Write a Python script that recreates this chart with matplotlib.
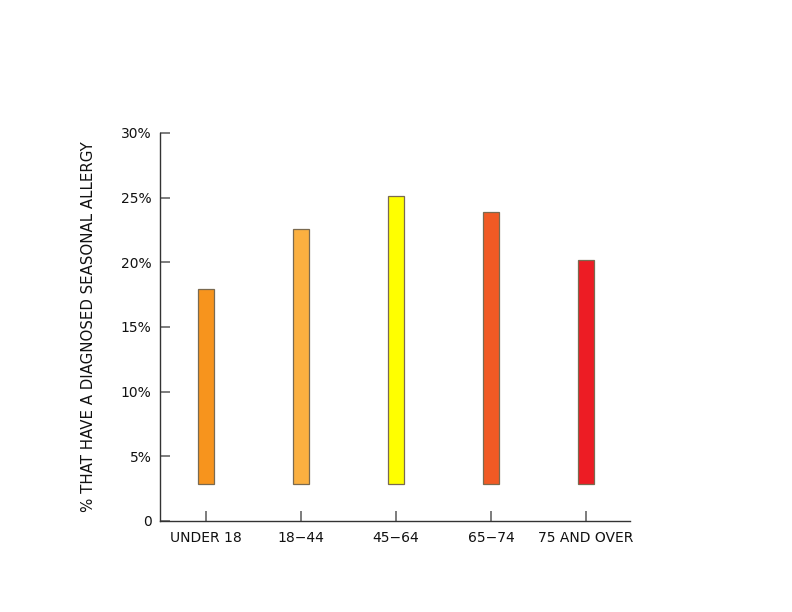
import matplotlib.pyplot as plt

groups = ['UNDER 18', '18\u221244', '45\u221264', '65\u221274', '75 AND OVER']
tops = [17.9, 22.6, 25.1, 23.9, 20.2]
base = 2.85
colors = ['#F7941D', '#FBB040', '#FFFF00', '#F15A24', '#ED1C24']

plt.rcParams['font.family'] = ['DejaVu Sans']

fig = plt.figure(figsize=(7.92, 6.12), dpi=100)
ax = fig.add_axes([0.202, 0.1487, 0.593, 0.634])

x = range(len(groups))
heights = [t - base for t in tops]
ax.bar(x, heights, bottom=base, width=0.175, color=colors,
       edgecolor='#7a6a50', linewidth=0.9)

ax.set_xlim(-0.484, 4.46)
ax.set_ylim(0, 30)
ax.set_xticks(list(x))
ax.set_xticklabels(groups, fontsize=10, color='#111111')
ax.set_yticks([0, 5, 10, 15, 20, 25, 30])
ax.set_yticklabels(['0', '5%', '10%', '15%', '20%', '25%', '30%'], fontsize=10, color='#111111')
ax.tick_params(axis='both', direction='in', length=7.5, width=1.2, color='#666666')
ax.tick_params(axis='y', pad=6)
ax.tick_params(axis='x', pad=7)

for s in ['top', 'right']:
    ax.spines[s].set_visible(False)
for s in ['left', 'bottom']:
    ax.spines[s].set_color('#333333')
    ax.spines[s].set_linewidth(1.0)

ax.set_ylabel('% THAT HAVE A DIAGNOSED SEASONAL ALLERGY', fontsize=10.8, labelpad=18, color='#111111')

fig.savefig('out.png', dpi=100)
